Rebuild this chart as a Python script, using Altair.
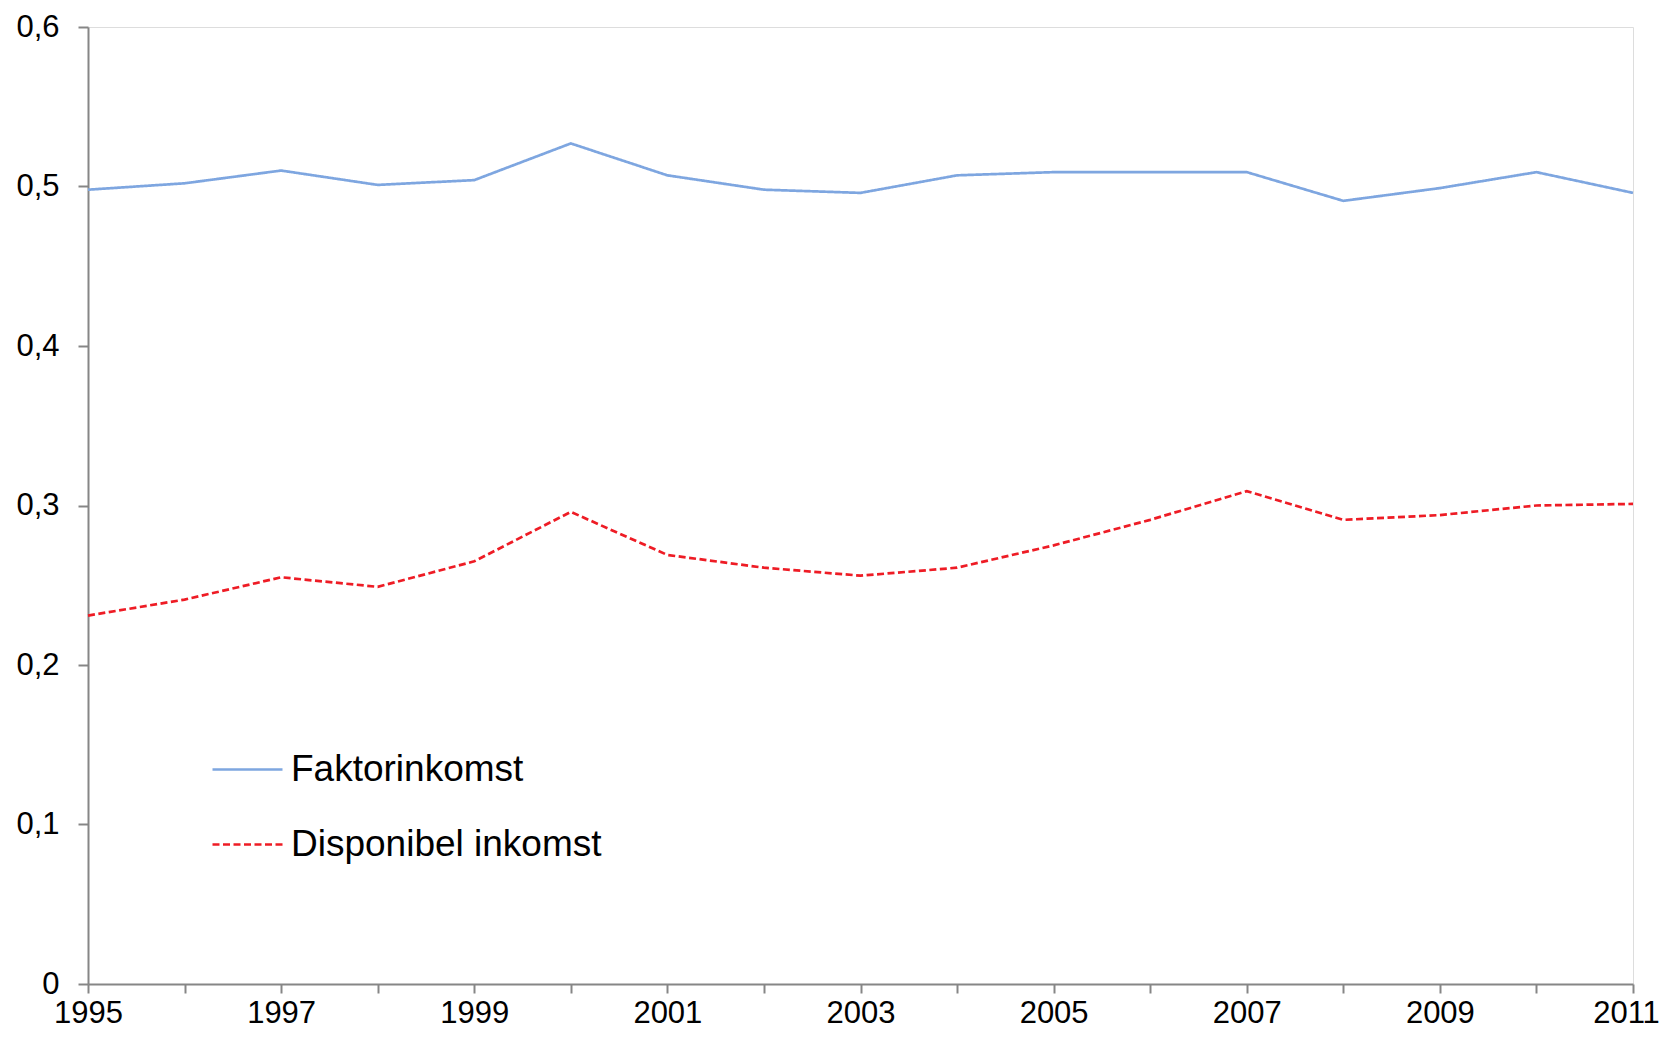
import altair as alt
import pandas as pd

years = list(range(1995, 2012))
faktor = [0.498, 0.502, 0.510, 0.501, 0.504, 0.527, 0.507, 0.498, 0.496,
          0.507, 0.509, 0.509, 0.509, 0.491, 0.499, 0.509, 0.496]
disponibel = [0.231, 0.241, 0.255, 0.249, 0.265, 0.296, 0.269, 0.261, 0.256,
              0.261, 0.275, 0.291, 0.309, 0.291, 0.294, 0.300, 0.301]
series_names = ["Faktorinkomst", "Disponibel inkomst"]

rows = []
for i, y in enumerate(years):
    rows.append({"year": y, "value": faktor[i], "series": series_names[0]})
    rows.append({"year": y, "value": disponibel[i], "series": series_names[1]})
df = pd.DataFrame(rows)

FONT = "Liberation Sans"

legend_opts = dict(title=None, orient="none", legendX=123, legendY=706,
                   labelFontSize=37, labelFont=FONT, labelColor="black",
                   symbolSize=4900, symbolStrokeWidth=2.7, labelLimit=0,
                   labelOffset=7, rowPadding=20, padding=0)

chart = alt.Chart(df).mark_line(strokeWidth=2.7).encode(
    x=alt.X("year:Q",
            scale=alt.Scale(domain=[1995, 2011], nice=False, zero=False),
            axis=alt.Axis(values=years, title=None, grid=False,
                          labelExpr="datum.value % 2 == 1 ? datum.label : ''",
                          format="d", tickSize=9, labelPadding=29,
                          labelBaseline="alphabetic",
                          labelOffset={"condition": {"test": "datum.value == 2011", "value": -7}, "value": 0},
                          labelFontSize=31, labelFont=FONT, labelColor="black",
                          domainColor="#868686", tickColor="#868686",
                          domainWidth=2, tickWidth=2, labelFlush=False)),
    y=alt.Y("value:Q",
            scale=alt.Scale(domain=[0, 0.6], nice=False),
            axis=alt.Axis(values=[0, 0.1, 0.2, 0.3, 0.4, 0.5, 0.6], title=None, grid=False,
                          labelExpr="datum.value == 0 ? '0' : replace(format(datum.value, '.1f'), '.', ',')",
                          tickSize=10, labelPadding=19,
                          labelFontSize=31, labelFont=FONT, labelColor="black",
                          domainColor="#868686", tickColor="#868686",
                          domainWidth=2, tickWidth=2)),
    color=alt.Color("series:N",
                    scale=alt.Scale(domain=series_names, range=["#7EA6E0", "#EE1C25"]),
                    sort=series_names,
                    legend=alt.Legend(**legend_opts)),
    strokeDash=alt.StrokeDash("series:N",
                              scale=alt.Scale(domain=series_names, range=[[1, 0], [7, 3.5]]),
                              sort=series_names,
                              legend=alt.Legend(**legend_opts)),
).properties(
    width=1545, height=957,
    padding={"left": 80, "top": 19, "right": 28, "bottom": 45},
    autosize=alt.AutoSizeParams(type="none"),
).configure_view(stroke=None).configure(background="white")

chart.save("out.html", embed_options={"renderer": "svg", "actions": False})
